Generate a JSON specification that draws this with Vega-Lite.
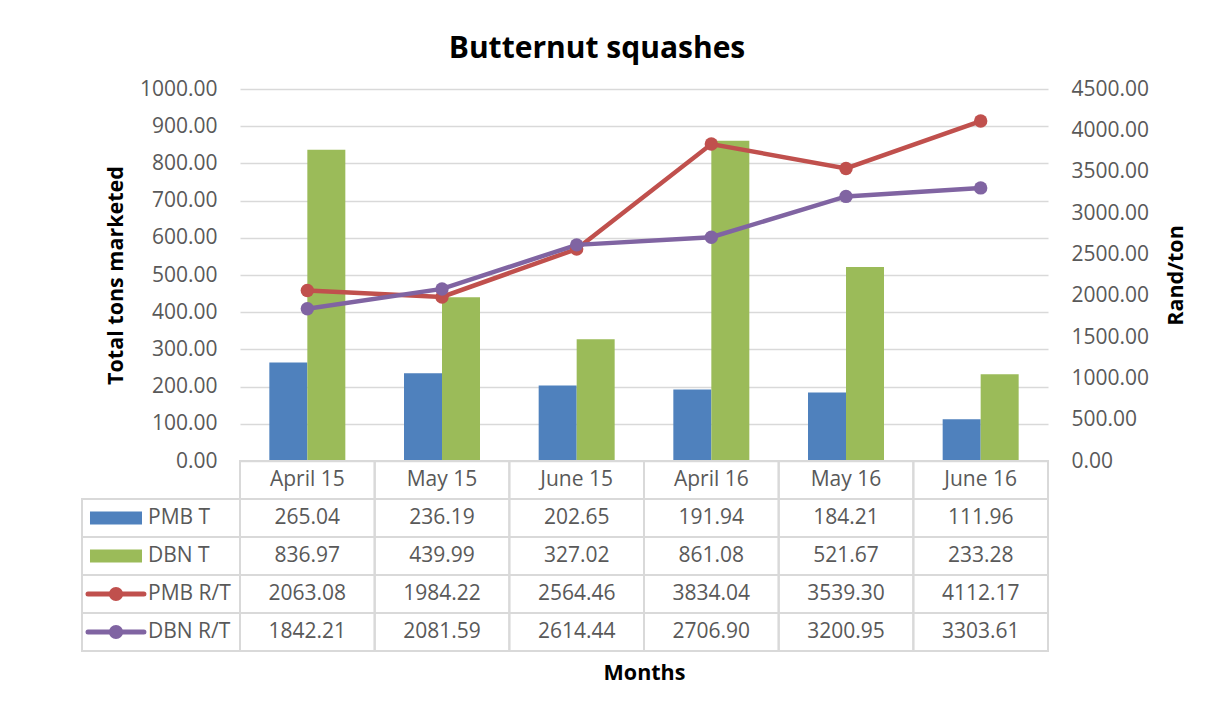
{
  "$schema": "https://vega.github.io/schema/vega-lite/v6.json",
  "autosize": {"type": "pad"},
  "padding": {"left": 81, "top": 34, "right": 0, "bottom": 0},
  "background": "white",
  "bounds": "flush",
  "spacing": 0,
  "config": {
    "font": "Open Sans",
    "view": {"stroke": null},
    "axis": {
      "labelFont": "Open Sans",
      "labelFontSize": 21,
      "labelColor": "#595959",
      "titleFont": "Open Sans",
      "titleFontSize": 21.5,
      "titleFontWeight": "bold",
      "titleColor": "#000000",
      "ticks": false,
      "tickSize": 0,
      "domain": false
    }
  },
  "title": {
    "text": "Butternut squashes",
    "font": "Open Sans",
    "fontSize": 30,
    "fontWeight": "bold",
    "color": "#000000",
    "anchor": "middle",
    "frame": "group",
    "dx": -47,
    "offset": 14
  },
  "datasets": {
    "d": [
      {"month": "April 15", "series": "PMB T", "value": 265.04},
      {"month": "May 15", "series": "PMB T", "value": 236.19},
      {"month": "June 15", "series": "PMB T", "value": 202.65},
      {"month": "April 16", "series": "PMB T", "value": 191.94},
      {"month": "May 16", "series": "PMB T", "value": 184.21},
      {"month": "June 16", "series": "PMB T", "value": 111.96},
      {"month": "April 15", "series": "DBN T", "value": 836.97},
      {"month": "May 15", "series": "DBN T", "value": 439.99},
      {"month": "June 15", "series": "DBN T", "value": 327.02},
      {"month": "April 16", "series": "DBN T", "value": 861.08},
      {"month": "May 16", "series": "DBN T", "value": 521.67},
      {"month": "June 16", "series": "DBN T", "value": 233.28},
      {"month": "April 15", "series": "PMB R/T", "value": 2063.08},
      {"month": "May 15", "series": "PMB R/T", "value": 1984.22},
      {"month": "June 15", "series": "PMB R/T", "value": 2564.46},
      {"month": "April 16", "series": "PMB R/T", "value": 3834.04},
      {"month": "May 16", "series": "PMB R/T", "value": 3539.30},
      {"month": "June 16", "series": "PMB R/T", "value": 4112.17},
      {"month": "April 15", "series": "DBN R/T", "value": 1842.21},
      {"month": "May 15", "series": "DBN R/T", "value": 2081.59},
      {"month": "June 15", "series": "DBN R/T", "value": 2614.44},
      {"month": "April 16", "series": "DBN R/T", "value": 2706.90},
      {"month": "May 16", "series": "DBN R/T", "value": 3200.95},
      {"month": "June 16", "series": "DBN R/T", "value": 3303.61}
    ]
  },
  "vconcat": [
    {
      "width": 808,
      "height": 372,
      "data": {"name": "d"},
      "layer": [
        {
          "transform": [{"filter": "datum.series === 'PMB T' || datum.series === 'DBN T'"}],
          "mark": {"type": "bar"},
          "encoding": {
            "x": {"field": "month", "type": "nominal", "sort": null,
                  "scale": {"domain": ["April 15", "May 15", "June 15", "April 16", "May 16", "June 16"], "paddingInner": 0, "paddingOuter": 0},
                  "axis": null},
            "xOffset": {"field": "series", "type": "nominal",
                        "scale": {"domain": ["PMB T", "DBN T"], "paddingInner": 0, "paddingOuter": 0.772}},
            "y": {"field": "value", "type": "quantitative",
                  "scale": {"domain": [0, 1000], "nice": false},
                  "axis": {"orient": "left", "title": "Total tons marketed",
                           "values": [0, 100, 200, 300, 400, 500, 600, 700, 800, 900, 1000],
                           "format": ".2f", "labelPadding": 23, "titlePadding": 12,
                           "grid": true, "gridColor": "#D9D9D9", "gridWidth": 1.3}},
            "color": {"field": "series", "type": "nominal",
                      "scale": {"domain": ["PMB T", "DBN T", "PMB R/T", "DBN R/T"], "range": ["#4F81BD", "#9BBB59", "#C0504D", "#8064A2"]},
                      "legend": null}
          }
        },
        {
          "transform": [{"filter": "datum.series === 'PMB R/T' || datum.series === 'DBN R/T'"}],
          "mark": {"type": "line", "strokeWidth": 4.5, "point": {"filled": true, "size": 180, "opacity": 1}},
          "encoding": {
            "x": {"field": "month", "type": "nominal", "sort": null,
                  "scale": {"domain": ["April 15", "May 15", "June 15", "April 16", "May 16", "June 16"], "paddingInner": 0, "paddingOuter": 0},
                  "axis": null},
            "y": {"field": "value", "type": "quantitative",
                  "scale": {"domain": [0, 4500], "nice": false},
                  "axis": {"orient": "right", "title": "Rand/ton",
                           "values": [0, 500, 1000, 1500, 2000, 2500, 3000, 3500, 4000, 4500],
                           "format": ".2f", "labelPadding": 23, "titlePadding": 17,
                           "titleAngle": 270, "titleBaseline": "top", "grid": false}},
            "color": {"field": "series", "type": "nominal",
                      "scale": {"domain": ["PMB T", "DBN T", "PMB R/T", "DBN R/T"], "range": ["#4F81BD", "#9BBB59", "#C0504D", "#8064A2"]},
                      "legend": null}
          }
        }
      ],
      "resolve": {"scale": {"y": "independent"}}
    },
    {
      "width": 808,
      "height": 190,
      "data": {"name": "d"},
      "layer": [
        {
          "layer": [
            {
              "mark": {"type": "rect", "filled": false, "color": "#D9D9D9", "strokeWidth": 2},
              "encoding": {
                "x": {"field": "month", "type": "nominal", "sort": null,
                      "scale": {"domain": ["April 15", "May 15", "June 15", "April 16", "May 16", "June 16"], "paddingInner": 0, "paddingOuter": 0},
                      "axis": {"orient": "bottom", "title": "Months", "labels": false, "ticks": false, "domain": false, "grid": false, "titlePadding": 11}},
                "y": {"field": "series", "type": "nominal",
                      "scale": {"domain": ["hdr", "PMB T", "DBN T", "PMB R/T", "DBN R/T"], "paddingInner": 0, "paddingOuter": 0},
                      "axis": null}
              }
            },
            {
              "transform": [{"filter": "datum.series === 'PMB T'"}],
              "mark": {"type": "rect", "filled": false, "color": "#D9D9D9", "strokeWidth": 2},
              "encoding": {
                "x": {"field": "month", "type": "nominal", "sort": null},
                "y": {"datum": "hdr", "type": "nominal", "axis": null}
              }
            },
            {
              "mark": {"type": "text", "fontSize": 21, "color": "#595959", "font": "Open Sans"},
              "encoding": {
                "x": {"field": "month", "type": "nominal", "sort": null},
                "y": {"field": "series", "type": "nominal", "axis": null},
                "text": {"field": "value", "type": "quantitative", "format": ".2f"}
              }
            },
            {
              "transform": [{"filter": "datum.series === 'PMB T'"}],
              "mark": {"type": "text", "fontSize": 21, "color": "#595959", "font": "Open Sans"},
              "encoding": {
                "x": {"field": "month", "type": "nominal", "sort": null},
                "y": {"datum": "hdr", "type": "nominal", "axis": null},
                "text": {"field": "month", "type": "nominal"}
              }
            }
          ]
        },
        {
          "transform": [{"filter": "datum.month === 'April 15'"}],
          "layer": [
            {
              "mark": {"type": "rect", "filled": false, "color": "#D9D9D9", "strokeWidth": 2},
              "encoding": {
                "x": {"datum": 0, "type": "quantitative", "scale": {"domain": [0, 1], "range": [-158, 0], "nice": false, "zero": false}, "axis": null},
                "x2": {"datum": 1},
                "y": {"field": "series", "type": "nominal", "axis": null}
              }
            },
            {
              "transform": [{"filter": "datum.series === 'PMB T' || datum.series === 'DBN T'"}],
              "mark": {"type": "bar", "height": 13},
              "encoding": {
                "x": {"datum": 0.0506, "type": "quantitative", "axis": null},
                "x2": {"datum": 0.3797},
                "y": {"field": "series", "type": "nominal", "axis": null},
                "color": {"field": "series", "type": "nominal",
                          "scale": {"domain": ["PMB T", "DBN T", "PMB R/T", "DBN R/T"], "range": ["#4F81BD", "#9BBB59", "#C0504D", "#8064A2"]},
                          "legend": null}
              }
            },
            {
              "transform": [{"filter": "datum.series === 'PMB R/T' || datum.series === 'DBN R/T'"}],
              "mark": {"type": "rule", "strokeWidth": 5, "strokeCap": "round"},
              "encoding": {
                "x": {"datum": 0.038, "type": "quantitative", "axis": null},
                "x2": {"datum": 0.392},
                "y": {"field": "series", "type": "nominal", "axis": null},
                "color": {"field": "series", "type": "nominal", "legend": null}
              }
            },
            {
              "transform": [{"filter": "datum.series === 'PMB R/T' || datum.series === 'DBN R/T'"}],
              "mark": {"type": "point", "filled": true, "size": 200, "opacity": 1},
              "encoding": {
                "x": {"datum": 0.2152, "type": "quantitative", "axis": null},
                "y": {"field": "series", "type": "nominal", "axis": null},
                "color": {"field": "series", "type": "nominal", "legend": null}
              }
            },
            {
              "mark": {"type": "text", "fontSize": 21, "color": "#595959", "align": "left", "font": "Open Sans"},
              "encoding": {
                "x": {"datum": 0.4177, "type": "quantitative", "axis": null},
                "y": {"field": "series", "type": "nominal", "axis": null},
                "text": {"field": "series", "type": "nominal"}
              }
            }
          ]
        }
      ],
      "resolve": {"scale": {"x": "independent"}}
    }
  ]
}
